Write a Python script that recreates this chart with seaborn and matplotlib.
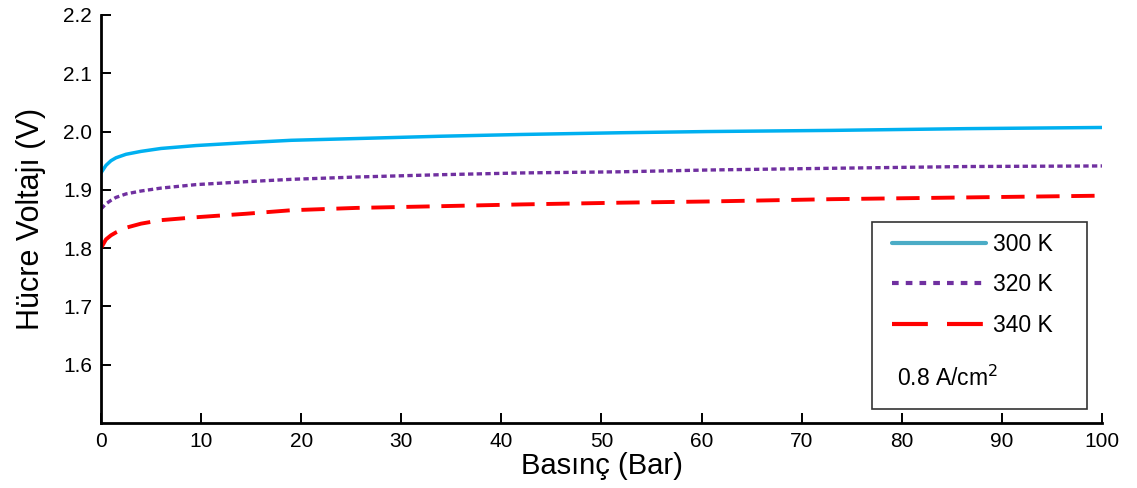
import numpy as np
import pandas as pd
import matplotlib
matplotlib.use("Agg")
import matplotlib.pyplot as plt
from matplotlib.lines import Line2D
from matplotlib.patches import Rectangle
import seaborn as sns

# Pressure (bar) and cell voltage (V) for three operating temperatures at 0.8 A/cm^2
pressure = [0, 0.5, 1, 1.5, 2.5, 4, 6, 9.5, 14.5, 19, 25.5, 34, 42, 52, 60.5, 73, 86.5, 100]
v_300k = [1.929, 1.942, 1.950, 1.955, 1.961, 1.966, 1.971, 1.976, 1.981, 1.985,
          1.988, 1.992, 1.995, 1.998, 2.000, 2.002, 2.005, 2.007]
v_320k = [1.867, 1.876, 1.882, 1.887, 1.893, 1.898, 1.903, 1.909, 1.914, 1.918,
          1.922, 1.926, 1.929, 1.931, 1.934, 1.937, 1.940, 1.941]
v_340k = [1.800, 1.815, 1.822, 1.827, 1.835, 1.842, 1.848, 1.853, 1.859, 1.865,
          1.869, 1.872, 1.875, 1.878, 1.880, 1.884, 1.887, 1.890]

series_labels = ["300 K", "320 K", "340 K"]
x_ticks = list(range(0, 101, 10))
y_ticks = [1.6, 1.7, 1.8, 1.9, 2.0, 2.1, 2.2]

TICK_FS = 15

sns.set_theme(style="white")
plt.rcParams["font.family"] = ["Liberation Sans", "DejaVu Sans"]
plt.rcParams["xtick.labelsize"] = TICK_FS
plt.rcParams["ytick.labelsize"] = TICK_FS

fig = plt.figure(figsize=(11.37, 4.88), dpi=100)
ax = fig.add_axes([0.0888, 0.1332, 0.8804, 0.8361])

line_colors = ["#00B0F0", "#7030A0", "#FF0000"]
legend_colors = ["#4BACC6", "#7030A0", "#FF0000"]
styles = ["-", (0, (1.6, 1.0)), (0, (6.0, 3.0))]
widths = [2.5, 2.4, 2.8]

for vals, col, ls, lw in zip([v_300k, v_320k, v_340k], line_colors, styles, widths):
    df = pd.DataFrame({"Basınç": pressure, "Voltaj": vals})
    sns.lineplot(data=df, x="Basınç", y="Voltaj", ax=ax, color=col,
                 linestyle=ls, linewidth=lw, legend=False)

ax.set_xlim(0, 100)
ax.set_ylim(1.5, 2.2)
ax.set_xticks(x_ticks)
ax.set_yticks(y_ticks)

for side in ["top", "right"]:
    ax.spines[side].set_visible(False)
for side in ["left", "bottom"]:
    ax.spines[side].set_linewidth(2.0)
    ax.spines[side].set_color("black")

ax.tick_params(axis="x", direction="in", length=7, width=1.4, color="black",
               labelcolor="black", pad=6.5, bottom=True)
ax.tick_params(axis="y", direction="in", length=7, width=1.4, color="black",
               labelcolor="black", pad=6.5, left=True)

ax.set_xlabel("Basınç (Bar)", fontsize=21, color="black", labelpad=1)
ax.set_ylabel("Hücre Voltajı (V)", fontsize=22, color="black", labelpad=12)

# Legend panel
box = Rectangle((0.770, 0.034), 0.215, 0.459, transform=ax.transAxes,
                facecolor="white", edgecolor="#333333", linewidth=1.2, zorder=5)
ax.add_patch(box)

handles = [
    Line2D([0], [0], color=legend_colors[0], linestyle="-", linewidth=3.0),
    Line2D([0], [0], color=legend_colors[1], linestyle=(0, (1.6, 1.7)), linewidth=3.0),
    Line2D([0], [0], color=legend_colors[2], linestyle=(0, (8.6, 4.6)), linewidth=3.0),
]
leg = ax.legend(handles, series_labels, loc="upper left", bbox_to_anchor=(0.790, 0.466),
                frameon=False, fontsize=16.5, handlelength=4.1, handletextpad=0.3,
                labelspacing=0.76, borderpad=0, borderaxespad=0)
leg.set_zorder(6)
for t in leg.get_texts():
    t.set_color("black")

ax.text(0.7957, 0.110, "0.8 A/cm$^2$", transform=ax.transAxes, fontsize=16.5,
        va="center", ha="left", color="black", zorder=7)

# Tick label size applied last so nothing later overrides it
ax.tick_params(axis="both", labelsize=TICK_FS)

fig.canvas.draw()
r = fig.canvas.get_renderer()
top_label = ax.get_yticklabels()[-1]
w = top_label.get_window_extent(r).width
if w < 26:
    raise RuntimeError(f"tick label width {w:.1f}px, size {top_label.get_fontsize()}")

fig.savefig("out.png", dpi=100)
